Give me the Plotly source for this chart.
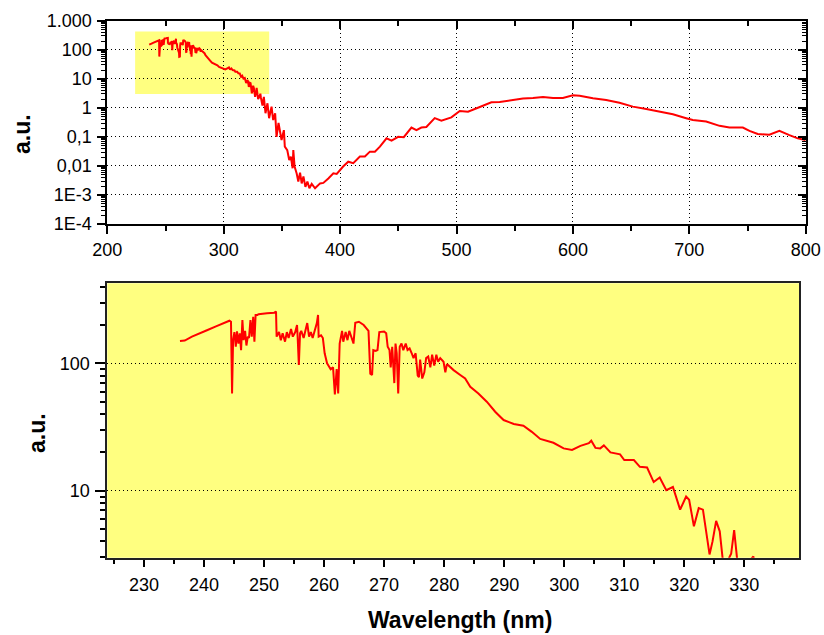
import plotly.graph_objects as go

# Spectral irradiance (arbitrary units) versus wavelength in nm
wavelength = [
    236.0, 236.8, 238.0, 239.3, 240.5, 242.0, 243.2, 244.24, 244.5, 244.68,
    244.85, 245.07, 245.3, 245.5, 245.74, 245.96, 246.18, 246.4, 246.6, 246.85,
    247.07, 247.3, 247.5, 247.74, 247.96, 248.2, 248.4, 248.6, 248.9, 249.1,
    250.5, 251.5, 251.7, 252.0, 252.1, 252.5, 252.8, 253.1, 253.5, 253.8,
    254.1, 254.5, 254.8, 255.2, 255.5, 255.6, 255.8, 256.0, 256.2, 256.6,
    256.9, 257.2, 257.5, 257.8, 258.1, 258.5, 258.8, 259.0, 259.1, 259.5,
    259.8, 260.1, 260.5, 260.8, 261.1, 261.5, 261.8, 262.1, 262.35, 262.6,
    262.8, 263.0, 263.2, 263.6, 263.9, 264.2, 264.6, 264.9, 265.2, 265.8,
    266.6, 267.4, 267.7, 268.0, 268.2, 268.6, 268.9, 269.2, 270.0, 270.35,
    270.6, 270.9, 271.1, 271.35, 271.7, 271.9, 272.1, 272.35, 272.6, 272.9,
    273.2, 273.6, 273.9, 274.25, 274.6, 274.9, 275.25, 275.6, 275.8, 276.0,
    276.35, 276.7, 277.0, 277.35, 277.7, 278.0, 278.35, 278.7, 279.0, 279.35,
    279.9, 280.2, 280.46, 281.57, 282.68, 283.5, 284.35, 285.7, 287.1, 288.5,
    289.9, 291.6, 293.2, 294.6, 296.0, 298.2, 299.9, 301.3, 302.7, 304.1,
    304.5, 305.2, 306.0, 306.6, 307.7, 309.3, 310.0, 311.6, 312.6, 313.8,
    314.9, 315.9, 317.0, 318.1, 319.3, 320.3, 320.8, 321.6, 322.4, 323.1,
    324.2, 324.7, 325.3, 325.9, 326.5, 327.0, 327.5, 327.8, 328.3, 328.9,
    329.6, 330.4, 331.1, 331.5, 332.0, 332.5, 333.3, 334.5, 335.9, 337.6,
    339.0, 341.1, 342.5, 344.2, 345.4, 347.1, 348.2, 349.7, 351.7, 352.5,
    354.6, 356.3, 357.7, 359.2, 359.8, 360.9, 362.7, 364.1, 365.6, 367.0,
    368.5, 370.2, 371.9, 373.6, 375.6, 378.5, 382.8, 385.6, 389.9, 394.2,
    397.1, 400.0, 402.6, 407.0, 411.3, 417.0, 421.3, 425.6, 429.9, 434.2,
    439.9, 444.2, 449.9, 454.7, 461.3, 465.6, 469.8, 474.1, 481.3, 487.0,
    495.6, 502.8, 509.9, 520.0, 530.0, 537.1, 548.5, 557.1, 565.7, 574.3,
    582.9, 591.4, 600.0, 605.8, 617.2, 628.6, 640.0, 651.5, 663.0, 674.4,
    685.9, 697.3, 703.0, 714.5, 726.0, 734.5, 746.0, 751.7, 758.8, 768.8,
    777.4, 786.0, 793.2, 798.9, 800.0,
]
intensity = [
    150, 151, 162, 173, 182, 195, 205, 216, 212, 58,
    152, 176, 135, 178, 143, 172, 127, 219, 152, 180,
    138, 162, 158, 219, 162, 232, 148, 240, 240, 243,
    247, 247, 250, 255, 162, 176, 152, 172, 148, 176,
    158, 186, 162, 176, 200, 162, 97, 172, 180, 158,
    186, 207, 162, 176, 158, 180, 207, 240, 162, 166,
    158, 120, 100, 95, 90, 93, 57, 90, 58, 143,
    162, 180, 148, 176, 152, 180, 158, 143, 208, 212,
    200, 180, 83, 81, 127, 125, 127, 176, 178, 172,
    135, 127, 93, 135, 70, 143, 120, 58, 135, 143,
    127, 143, 127, 131, 120, 110, 120, 80, 78, 107,
    76, 85, 110, 113, 93, 117, 96, 117, 103, 110,
    103, 85, 98.7, 88.5, 81, 76, 65.5, 58, 50, 41.7,
    35.9, 33.4, 32.4, 29, 25.5, 23.8, 21.5, 20.9, 22.5, 23.6,
    24.7, 21.7, 21.5, 22.7, 20, 19.3, 17.4, 17.4, 15.4, 15.2,
    11.7, 12.7, 10.1, 10.7, 7.1, 9.0, 8.5, 5.25, 7.3, 7.1,
    3.16, 4.0, 5.8, 4.8, 2.6, 2.4, 3.0, 3.2, 4.9, 2.6,
    2.0, 2.3, 2.9, 3.05, 2.2, 1.86, 1.2, 2.4, 0.65, 1.43,
    0.44, 1.1, 0.38, 0.65, 0.1, 0.3, 0.15, 0.078, 0.17, 0.046,
    0.035, 0.016, 0.021, 0.0083, 0.035, 0.0095, 0.0055, 0.0029, 0.0059, 0.0025,
    0.0043, 0.0019, 0.0029, 0.0017, 0.0024, 0.0017, 0.0025, 0.0026, 0.0037, 0.0056,
    0.0053, 0.0073, 0.0095, 0.014, 0.0124, 0.021, 0.021, 0.031, 0.031, 0.046,
    0.089, 0.074, 0.10, 0.098, 0.21, 0.17, 0.21, 0.22, 0.44, 0.36,
    0.47, 0.78, 0.74, 1.07, 1.55, 1.6, 1.9, 2.08, 2.19, 2.36,
    2.19, 2.19, 2.7, 2.6, 2.13, 1.85, 1.5, 1.1, 0.91, 0.72,
    0.6, 0.44, 0.38, 0.34, 0.24, 0.21, 0.21, 0.16, 0.125, 0.118,
    0.16, 0.115, 0.089, 0.079, 0.076,
]

# Tick definitions
top_ytick_vals = [1e3, 1e2, 1e1, 1, 1e-1, 1e-2, 1e-3, 1e-4]
top_ytick_text = ["1.000", "100", "10", "1", "0,1", "0,01", "1E-3", "1E-4"]
bottom_ytick_vals = [10, 100]
bottom_ytick_text = ["10", "100"]

# Zoomed wavelength window (highlighted in the overview panel)
zoom_x = [223.9, 339.1]
zoom_y = [2.98, 425]

FONT = "Liberation Sans, Arial, sans-serif"
BLACK = "#000000"
YELLOW = "#FFFF80"
RED = "#FF0000"
GRID_DASH = "1px,3px"

W, H = 824, 635
top_dom_x = [107.3 / W, 805.7 / W]
top_dom_y = [1 - 224.0 / H, 1 - 20.7 / H]
bot_dom_x = [107.3 / W, 799.0 / W]
bot_dom_y = [1 - 557.7 / H, 1 - 283.3 / H]

def log_minor(lo, hi):
    vals = []
    for e in range(lo, hi):
        for k in range(2, 10):
            vals.append(k * 10.0 ** e)
    return vals

fig = go.Figure()

fig.add_trace(go.Scatter(x=wavelength, y=intensity, mode="lines",
                         line=dict(color=RED, width=2),
                         xaxis="x", yaxis="y", showlegend=False, hoverinfo="skip"))
fig.add_trace(go.Scatter(x=wavelength, y=intensity, mode="lines",
                         line=dict(color=RED, width=2),
                         xaxis="x2", yaxis="y2", showlegend=False, hoverinfo="skip"))
# Carrier trace for the inward-tick mirror axes of the overview panel
fig.add_trace(go.Scatter(x=[None], y=[None], mode="lines",
                         xaxis="x3", yaxis="y3", showlegend=False, hoverinfo="skip"))

tick_font = dict(family=FONT, size=18, color=BLACK)

fig.update_layout(
    width=W, height=H,
    margin=dict(l=0, r=0, t=0, b=0),
    paper_bgcolor="white",
    plot_bgcolor="rgba(0,0,0,0)",
    font=dict(family=FONT, color=BLACK),
    xaxis=dict(
        domain=top_dom_x, anchor="y", range=[200, 800],
        tick0=200, dtick=100, ticks="outside", ticklen=8, tickwidth=2,
        tickcolor=BLACK, tickfont=tick_font, ticklabelstandoff=0,
        minor=dict(dtick=50, tick0=200, ticks="outside", ticklen=5,
                   tickwidth=1.5, tickcolor=BLACK, showgrid=False),
        showgrid=True, gridcolor=BLACK, gridwidth=1, griddash=GRID_DASH,
        showline=True, linecolor=BLACK, linewidth=2, mirror=True,
        zeroline=False, automargin=False,
    ),
    yaxis=dict(
        domain=top_dom_y, anchor="x", type="log", range=[-4, 3],
        tickmode="array", tickvals=top_ytick_vals, ticktext=top_ytick_text,
        ticks="outside", ticklen=8, tickwidth=2, tickcolor=BLACK,
        tickfont=tick_font, ticklabelstandoff=2,
        minor=dict(tickmode="array", tickvals=log_minor(-4, 3), ticks="outside",
                   ticklen=4, tickwidth=1, tickcolor=BLACK, showgrid=False),
        showgrid=True, gridcolor=BLACK, gridwidth=1, griddash=GRID_DASH,
        showline=True, linecolor=BLACK, linewidth=2, mirror=True,
        zeroline=False, automargin=False,
    ),
    xaxis3=dict(
        overlaying="x", side="top", anchor="y", domain=top_dom_x, range=[200, 800],
        tick0=200, dtick=100, ticks="inside", ticklen=8, tickwidth=2,
        tickcolor=BLACK, showticklabels=False,
        minor=dict(dtick=50, tick0=200, ticks="inside", ticklen=5,
                   tickwidth=1.5, tickcolor=BLACK, showgrid=False),
        showgrid=False, showline=False, zeroline=False, automargin=False,
    ),
    yaxis3=dict(
        overlaying="y", side="right", anchor="x", domain=top_dom_y,
        type="log", range=[-4, 3],
        tickmode="array", tickvals=top_ytick_vals,
        ticks="inside", ticklen=8, tickwidth=2, tickcolor=BLACK,
        showticklabels=False,
        minor=dict(tickmode="array", tickvals=log_minor(-4, 3), ticks="inside",
                   ticklen=4, tickwidth=1, tickcolor=BLACK, showgrid=False),
        showgrid=False, showline=False, zeroline=False, automargin=False,
    ),
    xaxis2=dict(
        domain=bot_dom_x, anchor="y2", range=zoom_x,
        tick0=230, dtick=10, ticks="outside", ticklen=7, tickwidth=2,
        tickcolor=BLACK, tickfont=tick_font, ticklabelstandoff=3,
        minor=dict(dtick=5, tick0=225, ticks="outside", ticklen=4,
                   tickwidth=1.5, tickcolor=BLACK, showgrid=False),
        showgrid=False, showline=True, linecolor="#222222", linewidth=2,
        mirror=True, zeroline=False, automargin=False,
    ),
    yaxis2=dict(
        domain=bot_dom_y, anchor="x2", type="log",
        range=[0.4742, 2.6284],
        tickmode="array", tickvals=bottom_ytick_vals, ticktext=bottom_ytick_text,
        ticks="outside", ticklen=10, tickwidth=2, tickcolor=BLACK,
        tickfont=tick_font, ticklabelstandoff=2,
        minor=dict(tickmode="array", tickvals=log_minor(0, 3), ticks="outside",
                   ticklen=5, tickwidth=1.5, tickcolor=BLACK, showgrid=False),
        showgrid=True, gridcolor=BLACK, gridwidth=1, griddash=GRID_DASH,
        showline=True, linecolor="#222222", linewidth=2, mirror=True,
        zeroline=False, automargin=False,
    ),
    shapes=[
        # highlighted window in the overview
        dict(type="rect", xref="x", yref="y", x0=zoom_x[0], x1=zoom_x[1],
             y0=zoom_y[0], y1=zoom_y[1], fillcolor=YELLOW, line=dict(width=0),
             layer="below"),
        # background of the zoomed panel
        dict(type="rect", xref="x2 domain", yref="y2 domain", x0=0, x1=1, y0=0, y1=1,
             fillcolor=YELLOW, line=dict(width=0), layer="below"),
    ],
    annotations=[
        dict(text="<b>a.u.</b>", x=22 / W, y=1 - 134 / H, xref="paper", yref="paper",
             textangle=-90, showarrow=False, xanchor="center", yanchor="middle",
             font=dict(family=FONT, size=23, color=BLACK)),
        dict(text="<b>a.u.</b>", x=37 / W, y=1 - 433 / H, xref="paper", yref="paper",
             textangle=-90, showarrow=False, xanchor="center", yanchor="middle",
             font=dict(family=FONT, size=23, color=BLACK)),
        dict(text="<b>Wavelength (nm)</b>", x=460 / W, y=1 - 620 / H,
             xref="paper", yref="paper", showarrow=False,
             xanchor="center", yanchor="middle",
             font=dict(family=FONT, size=23, color=BLACK)),
    ],
)

fig.write_html("out.html")
